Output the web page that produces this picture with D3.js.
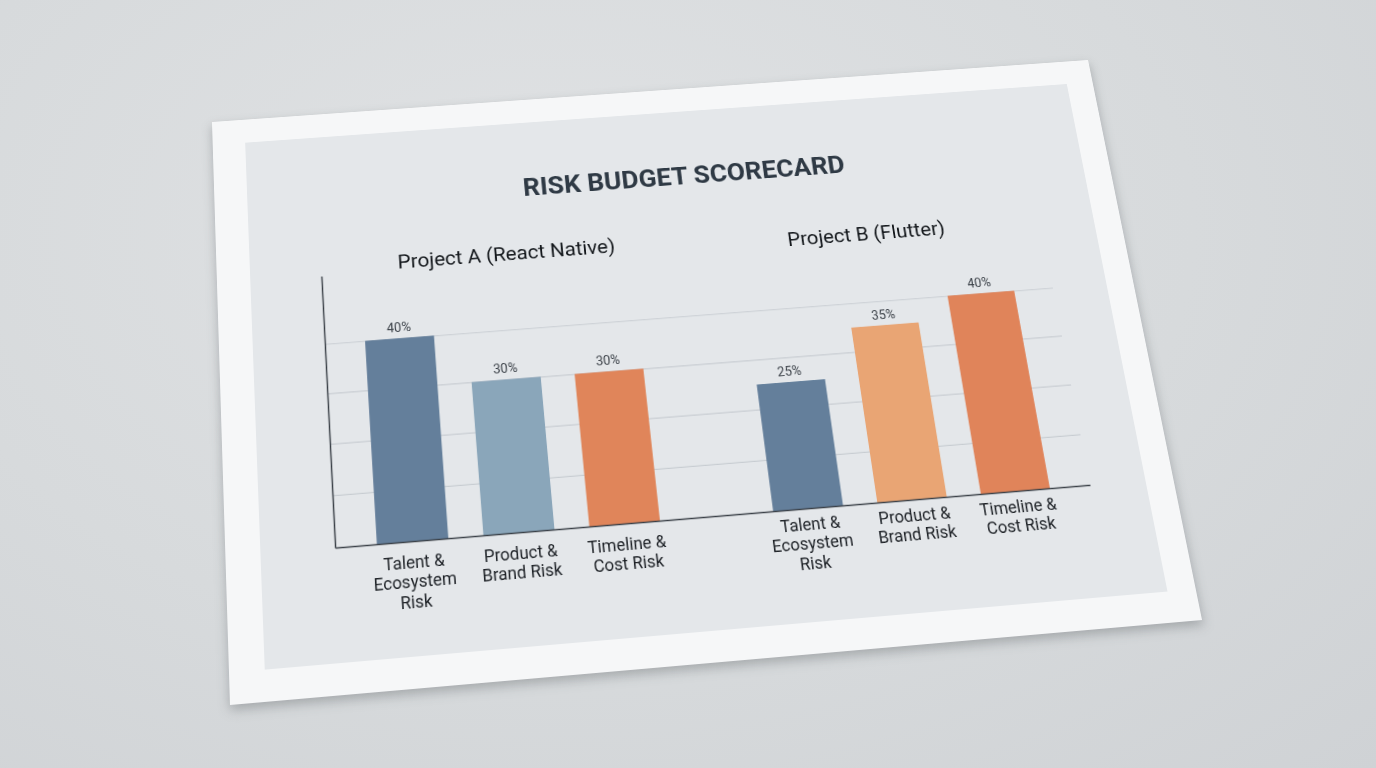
<!DOCTYPE html>
<html>
<head>
<meta charset="utf-8">
<script src="https://cdn.jsdelivr.net/npm/d3@7"></script>
<style>
  html, body { margin: 0; padding: 0; }
  body {
    width: 1376px; height: 768px; overflow: hidden; position: relative;
    background: radial-gradient(ellipse at 40% 30%, #e0e2e4 0%, #d7dadc 55%, #cfd2d5 100%);
    font-family: Roboto, 'Noto Sans', sans-serif;
  }
  #paper {
    position: absolute; left: 0; top: 0;
    transform-origin: 0 0;
    filter: drop-shadow(0 5px 6px rgba(40, 45, 50, 0.28));
  }
</style>
</head>
<body>
<div id="paper"></div>
<script>
// chart data
const chartTitle = 'RISK BUDGET SCORECARD'
const projects = ['Project A (React Native)', 'Project B (Flutter)']
const categories = ['Talent & Ecosystem Risk', 'Product & Brand Risk', 'Timeline & Cost Risk']
const categoryLines = [['Talent &', 'Ecosystem', 'Risk'], ['Product &', 'Brand Risk'], ['Timeline &', 'Cost Risk']]
const projectAValues = [40, 30, 30]
const projectBValues = [25, 35, 40]
const projectAColors = ['#647f9b', '#8aa6ba', '#e0855a']
const projectBColors = ['#647f9b', '#e9a574', '#e0845a']
const gridTicks = [10, 20, 30, 40]

// flat sheet size, later bent onto the photo with a homography
const W = 1000
const H = 640
// where the corners of the sheet end up in the picture
const corners = [[212, 122], [1088, 60], [1202, 620], [230, 705]]

function squareToQuad(q) {
  const [[x0, y0], [x1, y1], [x2, y2], [x3, y3]] = q
  const dx1 = x1 - x2, dx2 = x3 - x2, dx3 = x0 - x1 + x2 - x3
  const dy1 = y1 - y2, dy2 = y3 - y2, dy3 = y0 - y1 + y2 - y3
  const det = dx1 * dy2 - dx2 * dy1
  const g = (dx3 * dy2 - dx2 * dy3) / det
  const h = (dx1 * dy3 - dx3 * dy1) / det
  return {
    a: x1 - x0 + g * x1, b: x3 - x0 + h * x3, c: x0,
    d: y1 - y0 + g * y1, e: y3 - y0 + h * y3, f: y0,
    g: g, h: h
  }
}

const m = squareToQuad(corners)
const m3d = [
  m.a / W, m.d / W, 0, m.g / W,
  m.b / H, m.e / H, 0, m.h / H,
  0, 0, 1, 0,
  m.c, m.f, 0, 1
]
d3.select('#paper').style('transform', `matrix3d(${m3d.join(',')})`)

const svg = d3.select('#paper').append('svg')
  .attr('width', W).attr('height', H)
  .style('display', 'block')

// paper + inner panel
svg.append('rect').attr('width', W).attr('height', H).attr('fill', '#f6f7f8')
svg.append('rect')
  .attr('x', 36).attr('y', 28)
  .attr('width', 934).attr('height', 580)
  .attr('fill', '#e4e7ea')

// title
svg.append('text')
  .attr('x', 521).attr('y', 116)
  .attr('text-anchor', 'middle')
  .style('font-size', '29.5px').style('font-weight', 700)
  .style('fill', '#2f3a45')
  .text(chartTitle)

// scales
const xLeft = 113
const xRight = 910
const xGroup = d3.scaleBand().domain(projects)
  .range([xLeft, xRight])
  .paddingInner(0.2)
  .paddingOuter(0.06)
const xCat = d3.scaleBand().domain(categories)
  .range([0, xGroup.bandwidth()])
  .paddingInner(0.33)
  .paddingOuter(0.165)
const yScale = d3.scaleLinear([0, 54], [490, 192])
// subtitles and labels are not placed quite the same way in both groups
const subtitleShift = [[12, 190], [-5, 198]]
const labelGap = [28, 23]

const chart = svg.append('g').attr('class', 'chart')

// gridlines
const grid = chart.append('g')
  .attr('transform', `translate(${xLeft}, 0)`)
  .call(d3.axisLeft(yScale).tickValues(gridTicks).tickSize(-(xRight - xLeft)).tickFormat(''))
grid.select('.domain').remove()
grid.selectAll('.tick line').attr('stroke', '#c8cdd2').attr('stroke-width', 1.2)

// y axis line (no ticks)
const yAxisDraw = chart.append('g')
  .attr('transform', `translate(${xLeft}, 0)`)
  .call(d3.axisLeft(yScale).tickValues([]).tickSizeOuter(0))
yAxisDraw.select('.domain').attr('stroke', '#3b4148').attr('stroke-width', 1.5)

const seriesValues = [projectAValues, projectBValues]
const seriesColors = [projectAColors, projectBColors]

projects.forEach((p, pi) => {
  const g = chart.append('g').attr('transform', `translate(${xGroup(p)}, 0)`)
  const rows = categories.map((c, i) => ({ cat: c, value: seriesValues[pi][i], color: seriesColors[pi][i], lines: categoryLines[i] }))

  g.selectAll('.bar').data(rows).join('rect')
    .attr('class', 'bar')
    .attr('x', d => xCat(d.cat))
    .attr('y', d => yScale(d.value))
    .attr('width', xCat.bandwidth())
    .attr('height', d => yScale(0) - yScale(d.value))
    .attr('fill', d => d.color)

  g.selectAll('.value').data(rows).join('text')
    .attr('class', 'value')
    .attr('x', d => xCat(d.cat) + xCat.bandwidth() / 2)
    .attr('y', d => yScale(d.value) - 7)
    .attr('text-anchor', 'middle')
    .style('font-size', '14px').style('fill', '#3d434a')
    .text(d => d.value + '%')

  // category labels, several lines each
  const lab = g.selectAll('.cat-label').data(rows).join('text')
    .attr('class', 'cat-label')
    .attr('text-anchor', 'middle')
    .style('font-size', '17.5px').style('fill', '#1d2126')
  lab.selectAll('tspan').data(d => d.lines.map(t => ({ t: t, x: xCat(d.cat) + xCat.bandwidth() / 2 })))
    .join('tspan')
    .attr('x', d => d.x)
    .attr('y', (d, i) => yScale(0) + labelGap[pi] + i * 20.5)
    .text(d => d.t)

  // project subtitle
  g.append('text')
    .attr('x', xGroup.bandwidth() / 2 + subtitleShift[pi][0])
    .attr('y', subtitleShift[pi][1])
    .attr('text-anchor', 'middle')
    .style('font-size', '22.5px').style('font-weight', 400)
    .style('fill', '#15191d')
    .text(p)
})

// baseline across both groups
const xAxisDraw = chart.append('g')
  .attr('transform', `translate(0, ${yScale(0)})`)
  .call(d3.axisBottom(xGroup).tickValues([]).tickSizeOuter(0))
xAxisDraw.select('.domain').attr('stroke', '#3b4148').attr('stroke-width', 1.5)
</script>
</body>
</html>
